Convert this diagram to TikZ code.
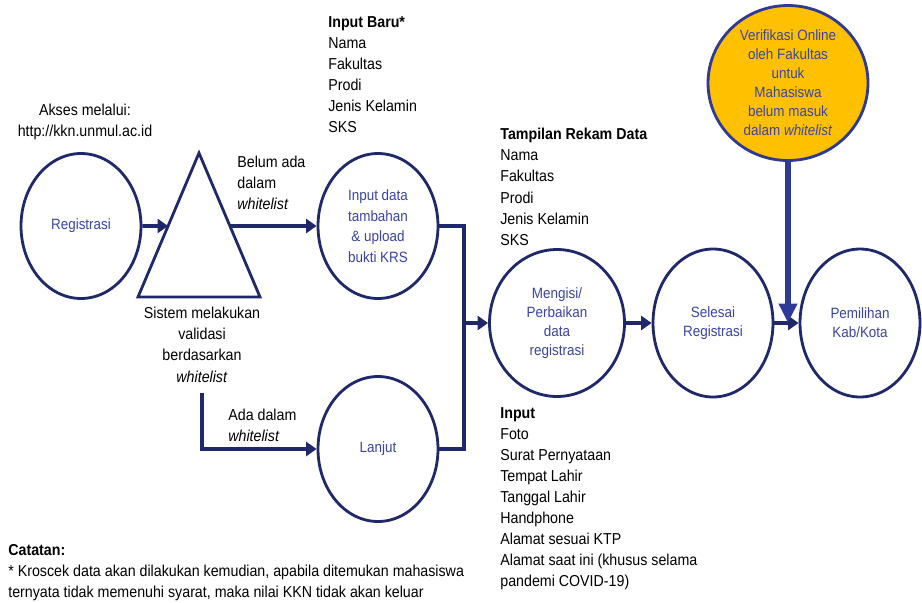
\documentclass[tikz,border=0pt]{standalone}
\usepackage{fontspec}
\setmainfont[FakeStretch=0.9]{Liberation Sans}
\usetikzlibrary{arrows.meta, positioning, calc, shapes.geometric}
\definecolor{mynavy}{RGB}{31,40,105}
\definecolor{myblue}{RGB}{58,68,160}
\definecolor{myblueline}{RGB}{46,58,150}
\definecolor{myorange}{RGB}{255,192,0}

\begin{document}
\begin{tikzpicture}[x=0.02cm, y=-0.02cm,
    txt/.style={font=\fontsize{9}{12}\selectfont, align=left, inner sep=0pt},
    proc/.style={ellipse, draw=mynavy, line width=1.6pt, minimum width=2.4cm, minimum height=2.9cm,
        inner sep=0pt, text=myblue, align=center, font=\fontsize{8.5}{10.8}\selectfont},
    flow/.style={draw=mynavy, line width=2.2pt, -{Triangle[length=6pt,width=8pt]}},
    joint/.style={draw=mynavy, line width=2.2pt}]
        \useasboundingbox (0,0) rectangle (922,602);
        % process nodes
        \node[proc] (reg) at (81,226) {Registrasi};
        \node[proc, font=\fontsize{8.5}{11.7}\selectfont] (inp) at (378,226) {Input data\\tambahan\\\& upload\\bukti KRS};
        \node[proc] (lanjut) at (378,449) {Lanjut};
        \node[proc, minimum width=2.7cm, minimum height=2.94cm] (isi) at (557,323) {Mengisi/\\Perbaikan\\data\\registrasi};
        \node[proc, minimum height=2.96cm] (selesai) at (713,323) {Selesai\\Registrasi};
        \node[proc, minimum height=2.96cm] (pilih) at (860,323) {Pemilihan\\Kab/Kota};
        \node[proc, fill=myorange, draw=myblueline, minimum width=3.2cm, minimum height=3.1cm] (verif) at (788,83)
            {Verifikasi Online\\oleh Fakultas\\untuk\\Mahasiswa\\belum masuk\\dalam \textit{whitelist}};
        % validation triangle
        \coordinate[] (apex) at (199,153);
        \coordinate[] (bl) at (138,297);
        \coordinate[] (br) at (260,297);
        \draw[draw=mynavy, line width=1.6pt, line join=miter] (apex) -- (bl) -- (br) -- cycle;
        \coordinate[] (tl) at ($(apex)!0.507!(bl)$);
        \coordinate[] (tr) at ($(apex)!0.507!(br)$);
        \coordinate[] (down) at (202,393);
        % connectors
        \draw[flow] (reg.east) -- (tl);
        \draw[flow] (tr) -- (inp.west);
        \draw[flow] (down) |- (lanjut.west);
        \draw[joint] (inp.east) -- ++(25,0) coordinate (j1) |- (lanjut.east);
        \draw[flow] (j1 |- isi.west) -- (isi.west);
        \draw[flow] (isi) -- (selesai);
        \draw[flow] (selesai) -- (pilih);
        \draw[draw=myblueline, line width=3.4pt, -{Triangle[length=11pt,width=10pt]}] (verif.south) -- (verif.south |- pilih.west);
        % texts
        \node[txt, anchor=north, align=center] (akses) at (85,104) {Akses melalui:\\http://kkn.unmul.ac.id};
        \node[txt, anchor=north west] (belum) at (237,156) {Belum ada\\dalam\\\textit{whitelist}};
        \node[txt, anchor=north, align=center] (sistem) at (202,307) {Sistem melakukan\\validasi\\berdasarkan\\\textit{whitelist}};
        \node[txt, anchor=north west] (ada) at (228,409) {Ada dalam\\\textit{whitelist}};
        \node[txt, anchor=north west] (baru) at (328,16) {\textbf{Input Baru*}\\Nama\\Fakultas\\Prodi\\Jenis Kelamin\\SKS};
        \node[txt, anchor=north west] (rekam) at (500,128) {\textbf{Tampilan Rekam Data}\\Nama\\Fakultas\\Prodi\\Jenis Kelamin\\SKS};
        \node[txt, anchor=north west] (input) at (500,407) {\textbf{Input}\\Foto\\Surat Pernyataan\\Tempat Lahir\\Tanggal Lahir\\Handphone\\Alamat sesuai KTP\\Alamat saat ini (khusus selama\\pandemi COVID-19)};
        \node[txt, anchor=north west] (catatan) at (8,544) {\textbf{Catatan:}\\* Kroscek data akan dilakukan kemudian, apabila ditemukan mahasiswa\\ternyata tidak memenuhi syarat, maka nilai KKN tidak akan keluar};
\end{tikzpicture}
\end{document}
